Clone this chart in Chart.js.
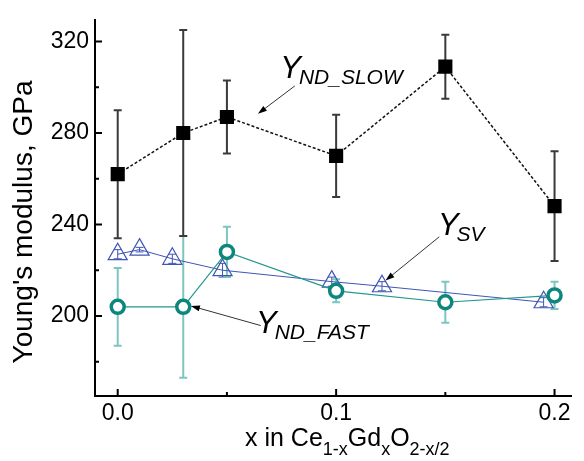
<!DOCTYPE html>
<html>
<head>
<meta charset="utf-8">
<script src="https://cdn.jsdelivr.net/npm/chart.js@4.4.1/dist/chart.umd.min.js"></script>
<style>
  body { margin: 0; background: #fff; }
  #wrap { width: 584px; height: 461px; }
</style>
</head>
<body>
<div id="wrap"><canvas id="grafico" width="584" height="461"></canvas></div>
<script>
// x in Ce(1-x)Gd(x)O(2-x/2), modulus in GPa
const xSlow = [0, 0.03, 0.05, 0.1, 0.15, 0.2];
const ySlow = [262, 280, 287, 270, 309, 248];
const errSlow = [28, 45, 16, 18, 14, 24];

const xFast = [0, 0.03, 0.05, 0.1, 0.15, 0.2];
const yFast = [204, 204, 228, 211, 206, 209];
const errFast = [17, 31, 11, 5, 9, 6];

const xSv = [0, 0.01, 0.025, 0.048, 0.098, 0.121, 0.195];
const ySv = [227, 229, 225, 220, 215, 213, 206];
const errSv = [2, 1, 2, 3, 2, 2, 2];

const xTicks = [0, 0.05, 0.1, 0.15, 0.2];
const xLabels = ['0.0', '', '0.1', '', '0.2'];
const yTicks = [180, 200, 220, 240, 260, 280, 300, 320];
const yLabels = ['', '200', '', '240', '', '280', '', '320'];

const FONT = '"Liberation Sans", Arial, sans-serif';

const pontos = (xs, ys) => xs.map((v, i) => ({ x: v, y: ys[i] }));

// labels with arrows, in data units: text anchor, arrow start, arrow tip
const notas = [
  { sub: 'ND_SLOW', texto: [0.0744, 304], de: [0.0811, 300.6], para: [0.0642, 288.4] },
  { sub: 'SV', texto: [0.1466, 235.4], de: [0.1472, 234.6], para: [0.1226, 215.5] },
  { sub: 'ND_FAST', texto: [0.0633, 192.5], de: [0.0655, 195.8], para: [0.0335, 204.4] }
];

const barrasErro = {
  id: 'barrasErro',
  beforeDatasetsDraw(chart) {
    const { ctx, scales: { x, y } } = chart;
    for (let i = chart.data.datasets.length - 1; i >= 0; i--) {
      const ds = chart.data.datasets[i];
      ctx.save();
      ctx.strokeStyle = ds.corErro;
      ctx.lineWidth = ds.espErro;
      ds.data.forEach((p, j) => {
        const px = x.getPixelForValue(p.x);
        const t = y.getPixelForValue(p.y + ds.erros[j]);
        const b = y.getPixelForValue(p.y - ds.erros[j]);
        const c = ds.capErro;
        ctx.beginPath();
        ctx.moveTo(px, t); ctx.lineTo(px, b);
        ctx.moveTo(px - c, t); ctx.lineTo(px + c, t);
        ctx.moveTo(px - c, b); ctx.lineTo(px + c, b);
        ctx.stroke();
      });
      ctx.restore();
    }
  }
};

const extras = {
  id: 'extras',
  afterDraw(chart) {
    const { ctx, chartArea: a, scales: { x, y } } = chart;
    ctx.save();
    // inward tick marks
    ctx.strokeStyle = '#000';
    ctx.lineWidth = 2;
    ctx.beginPath();
    xTicks.forEach((v, i) => {
      const px = x.getPixelForValue(v);
      ctx.moveTo(px, a.bottom);
      ctx.lineTo(px, a.bottom - (xLabels[i] ? 7 : 4));
    });
    yTicks.forEach((v, i) => {
      const py = y.getPixelForValue(v);
      ctx.moveTo(a.left, py);
      ctx.lineTo(a.left + (yLabels[i] ? 7 : 4), py);
    });
    ctx.stroke();

    // arrows and Y labels
    ctx.fillStyle = '#000';
    ctx.textBaseline = 'alphabetic';
    ctx.textAlign = 'left';
    notas.forEach(n => {
      const x1 = x.getPixelForValue(n.de[0]), y1 = y.getPixelForValue(n.de[1]);
      const x2 = x.getPixelForValue(n.para[0]), y2 = y.getPixelForValue(n.para[1]);
      const ang = Math.atan2(y2 - y1, x2 - x1);
      ctx.strokeStyle = '#333';
      ctx.lineWidth = 1;
      ctx.beginPath();
      ctx.moveTo(x1, y1);
      ctx.lineTo(x2 - 6 * Math.cos(ang), y2 - 6 * Math.sin(ang));
      ctx.stroke();
      ctx.beginPath();
      ctx.moveTo(x2, y2);
      ctx.lineTo(x2 - 9 * Math.cos(ang) + 3 * Math.sin(ang), y2 - 9 * Math.sin(ang) - 3 * Math.cos(ang));
      ctx.lineTo(x2 - 9 * Math.cos(ang) - 3 * Math.sin(ang), y2 - 9 * Math.sin(ang) + 3 * Math.cos(ang));
      ctx.closePath();
      ctx.fill();

      const tx = x.getPixelForValue(n.texto[0]), ty = y.getPixelForValue(n.texto[1]);
      ctx.font = 'italic 31px ' + FONT;
      ctx.fillText('Y', tx, ty);
      const w = ctx.measureText('Y').width;
      ctx.font = 'italic 21px ' + FONT;
      ctx.fillText(n.sub, tx + w - 2, ty + 6);
    });

    // axis titles
    ctx.font = '28px ' + FONT;
    ctx.textAlign = 'center';
    ctx.textBaseline = 'middle';
    ctx.translate(24, 222);
    ctx.rotate(-Math.PI / 2);
    ctx.fillText("Young's modulus, GPa", 0, 0);
    ctx.setTransform(1, 0, 0, 1, 0, 0);

    const partes = [['x in Ce', 0], ['1-x', 1], ['Gd', 0], ['x', 1], ['O', 0], ['2-x/2', 1]];
    ctx.textAlign = 'left';
    ctx.textBaseline = 'alphabetic';
    let cx = 245;
    partes.forEach(([s, sub]) => {
      ctx.font = (sub ? '18px ' : '25px ') + FONT;
      ctx.fillText(s, cx, sub ? 455 : 446);
      cx += ctx.measureText(s).width;
    });
    ctx.restore();
  }
};

new Chart(document.getElementById('grafico').getContext('2d'), {
  type: 'scatter',
  data: {
    datasets: [
      {
        label: 'Y ND_SLOW',
        data: pontos(xSlow, ySlow),
        erros: errSlow, corErro: '#3a3a3a', espErro: 2, capErro: 4,
        showLine: true,
        borderColor: '#111',
        borderWidth: 1.5,
        borderDash: [3, 2],
        pointStyle: 'rect',
        pointRadius: 10,
        pointBackgroundColor: '#000',
        pointBorderColor: '#000',
        pointBorderWidth: 0
      },
      {
        label: 'Y ND_FAST',
        data: pontos(xFast, yFast),
        erros: errFast, corErro: '#7cc6c0', espErro: 2, capErro: 4,
        showLine: true,
        borderColor: '#22978c',
        borderWidth: 1.2,
        pointStyle: 'circle',
        pointRadius: 6.5,
        pointBackgroundColor: '#fff',
        pointBorderColor: '#0d877d',
        pointBorderWidth: 3.5
      },
      {
        label: 'Y SV',
        data: pontos(xSv, ySv),
        erros: errSv, corErro: '#3f55b5', espErro: 1, capErro: 4,
        showLine: true,
        borderColor: '#3f55b5',
        borderWidth: 1,
        pointStyle: 'triangle',
        pointRadius: 11,
        pointBackgroundColor: 'rgba(255,255,255,0)',
        pointBorderColor: '#3f55b5',
        pointBorderWidth: 1.2
      }
    ]
  },
  options: {
    responsive: false,
    animation: false,
    events: [],
    layout: { padding: { top: 12, right: 0, bottom: 0, left: 0 } },
    plugins: { legend: { display: false }, tooltip: { enabled: false } },
    scales: {
      x: {
        type: 'linear',
        min: -0.0104,
        max: 0.2079,
        afterBuildTicks: s => { s.ticks = xTicks.map(v => ({ value: v })); },
        afterFit: s => { s.height = 65; },
        grid: { display: false, drawTicks: false },
        border: { display: true, color: '#000', width: 2 },
        ticks: {
          padding: 4,
          color: '#000',
          font: { family: FONT, size: 23 },
          maxRotation: 0,
          autoSkip: false,
          callback: (v, i) => xLabels[i]
        }
      },
      y: {
        min: 165,
        max: 329.5,
        afterBuildTicks: s => { s.ticks = yTicks.map(v => ({ value: v })); },
        afterFit: s => { s.width = 95; },
        grid: { display: false, drawTicks: false },
        border: { display: true, color: '#000', width: 2 },
        ticks: {
          padding: 6,
          color: '#000',
          font: { family: FONT, size: 23 },
          autoSkip: false,
          callback: (v, i) => yLabels[i]
        }
      }
    }
  },
  plugins: [barrasErro, extras]
});
</script>
</body>
</html>
